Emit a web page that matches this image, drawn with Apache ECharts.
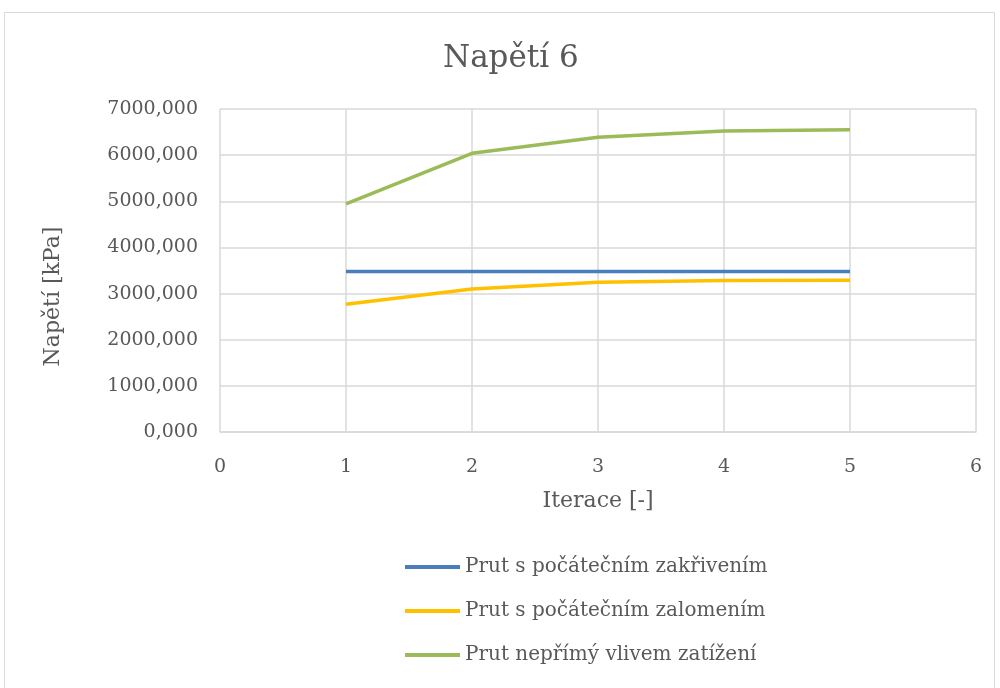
<!DOCTYPE html>
<html>
<head>
<meta charset="utf-8">
<script src="https://cdn.jsdelivr.net/npm/echarts@6/dist/echarts.min.js"></script>
<style>
  html, body { margin: 0; padding: 0; background: #fff; }
  #chart { width: 1000px; height: 688px; }
</style>
</head>
<body>
<div id="chart"></div>
<script>
// data
const iterace = [1, 2, 3, 4, 5]
const zakriveni = [3477, 3477, 3477, 3477, 3477]
const zalomeni = [2768, 3100, 3245, 3282, 3288]
const neprimy = [4944, 6040, 6388, 6525, 6548]
const seriesNames = ['Prut s počátečním zakřivením', 'Prut s počátečním zalomením', 'Prut nepřímý vlivem zatížení']
const colors = ['#4A7EBB', '#FFC000', '#9BBB59']

const font = 'DejaVu Serif'
const txt = '#595959'

var myChart = echarts.init(document.getElementById('chart'))

function pairs(ys) {
  return iterace.map((x, i) => [x, ys[i]])
}

myChart.setOption({
  backgroundColor: '#fff',
  animation: false,
  color: colors,
  title: {
    text: 'Napětí 6',
    left: 438,
    top: 38,
    textStyle: { fontFamily: font, fontSize: 31, fontWeight: 'normal', color: txt }
  },
  graphic: [{
    type: 'rect',
    shape: { x: 4.5, y: 12.5, width: 990, height: 690 },
    style: { fill: 'none', stroke: '#d9d9d9', lineWidth: 1 },
    silent: true
  }],
  grid: { left: 220, right: 24, top: 109, bottom: 256 },
  legend: {
    orient: 'vertical',
    left: 400,
    top: 552,
    height: 130,
    itemWidth: 55,
    itemHeight: 4,
    itemGap: 24,
    icon: 'rect',
    textStyle: { fontFamily: font, fontSize: 20, color: txt },
    data: seriesNames
  },
  xAxis: {
    type: 'value',
    min: 0,
    max: 6,
    interval: 1,
    name: 'Iterace [-]',
    nameLocation: 'middle',
    nameGap: 58,
    nameTextStyle: { fontFamily: font, fontSize: 22, color: txt },
    axisLine: { show: true, lineStyle: { color: '#d9d9d9', width: 1.5 } },
    axisTick: { show: false },
    axisLabel: { fontFamily: font, fontSize: 19, color: txt, margin: 26 },
    splitLine: { show: true, lineStyle: { color: '#d9d9d9', width: 1.5 } }
  },
  yAxis: {
    type: 'value',
    min: 0,
    max: 7000,
    interval: 1000,
    name: 'Napětí [kPa]',
    nameLocation: 'middle',
    nameGap: 156,
    nameTextStyle: { fontFamily: font, fontSize: 22, color: txt, padding: [0, 52, 0, 0] },
    axisLine: { show: false },
    axisTick: { show: false },
    axisLabel: {
      fontFamily: font, fontSize: 19, color: txt, margin: 22,
      formatter: v => v.toFixed(3).replace('.', ',')
    },
    splitLine: { show: true, lineStyle: { color: '#d9d9d9', width: 1.5 } }
  },
  series: [
    {
      name: seriesNames[0],
      type: 'line',
      showSymbol: false,
      symbol: 'none',
      lineStyle: { width: 3.5 },
      data: pairs(zakriveni)
    },
    {
      name: seriesNames[1],
      type: 'line',
      showSymbol: false,
      symbol: 'none',
      lineStyle: { width: 3.5 },
      data: pairs(zalomeni)
    },
    {
      name: seriesNames[2],
      type: 'line',
      showSymbol: false,
      symbol: 'none',
      lineStyle: { width: 3.5 },
      data: pairs(neprimy)
    }
  ]
})
</script>
</body>
</html>
